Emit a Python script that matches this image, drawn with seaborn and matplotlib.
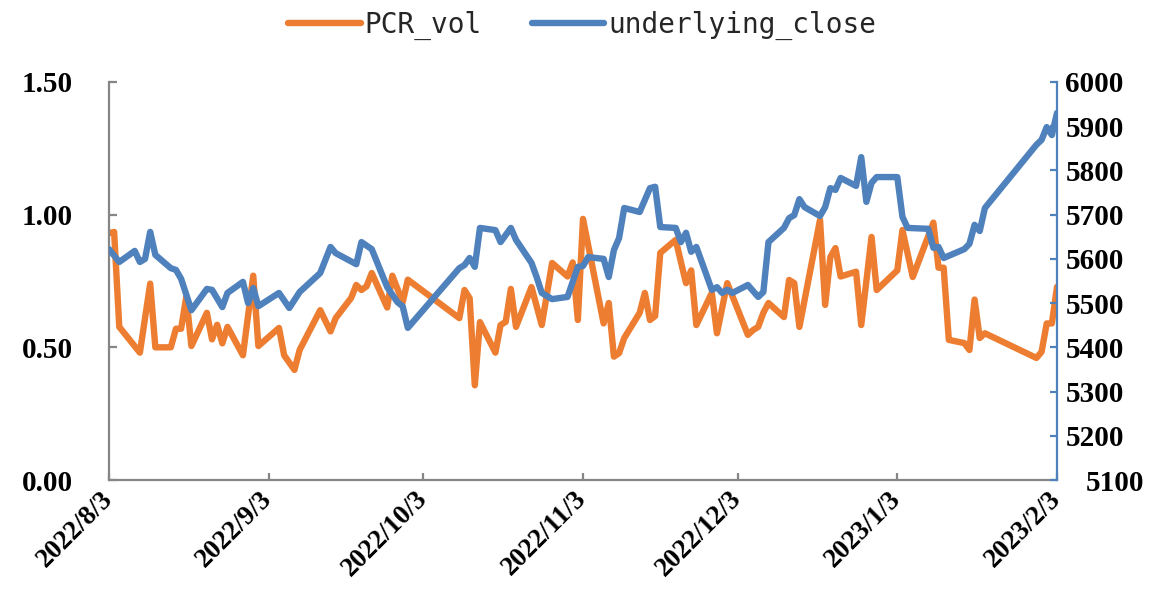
import matplotlib
matplotlib.use("Agg")
import matplotlib.pyplot as plt
import seaborn as sns
import pandas as pd

# ---------------- data ----------------
pcr_dates = [
    "2022-08-03", "2022-08-04", "2022-08-05", "2022-08-09", "2022-08-11", "2022-08-12",
    "2022-08-15", "2022-08-16", "2022-08-17", "2022-08-18", "2022-08-19", "2022-08-22",
    "2022-08-23", "2022-08-24", "2022-08-25", "2022-08-26", "2022-08-29", "2022-08-31",
    "2022-09-01", "2022-09-05", "2022-09-06", "2022-09-08", "2022-09-09", "2022-09-13",
    "2022-09-15", "2022-09-16", "2022-09-19", "2022-09-20", "2022-09-21", "2022-09-22",
    "2022-09-23", "2022-09-26", "2022-09-27", "2022-09-29", "2022-09-30", "2022-10-10",
    "2022-10-11", "2022-10-12", "2022-10-13", "2022-10-14", "2022-10-17", "2022-10-18",
    "2022-10-19", "2022-10-20", "2022-10-21", "2022-10-24", "2022-10-26", "2022-10-28",
    "2022-10-31", "2022-11-01", "2022-11-02", "2022-11-03", "2022-11-07", "2022-11-08",
    "2022-11-09", "2022-11-10", "2022-11-11", "2022-11-14", "2022-11-15", "2022-11-16",
    "2022-11-17", "2022-11-18", "2022-11-21", "2022-11-22", "2022-11-23", "2022-11-24",
    "2022-11-25", "2022-11-28", "2022-11-29", "2022-12-01", "2022-12-05", "2022-12-06",
    "2022-12-07", "2022-12-08", "2022-12-09", "2022-12-12", "2022-12-13", "2022-12-14",
    "2022-12-15", "2022-12-19", "2022-12-20", "2022-12-21", "2022-12-22", "2022-12-23",
    "2022-12-26", "2022-12-27", "2022-12-29", "2022-12-30", "2023-01-03", "2023-01-04",
    "2023-01-06", "2023-01-10", "2023-01-11", "2023-01-12", "2023-01-13", "2023-01-16",
    "2023-01-17", "2023-01-18", "2023-01-19", "2023-01-20", "2023-01-30", "2023-01-31",
    "2023-02-01", "2023-02-02", "2023-02-03",
]
pcr_vol = [
    0.93, 0.935, 0.577, 0.48, 0.74, 0.50,
    0.50, 0.57, 0.57, 0.69, 0.505, 0.63,
    0.53, 0.585, 0.515, 0.577, 0.47, 0.77,
    0.505, 0.573, 0.47, 0.415, 0.49, 0.64,
    0.56, 0.61, 0.686, 0.735, 0.716, 0.73,
    0.78, 0.65, 0.77, 0.67, 0.755, 0.61,
    0.716, 0.685, 0.357, 0.595, 0.48, 0.584,
    0.596, 0.72, 0.577, 0.727, 0.584, 0.818,
    0.767, 0.82, 0.603, 0.984, 0.59, 0.667,
    0.465, 0.478, 0.535, 0.63, 0.705, 0.603,
    0.618, 0.856, 0.905, 0.822, 0.742, 0.79,
    0.584, 0.705, 0.553, 0.742, 0.547, 0.565,
    0.577, 0.63, 0.667, 0.614, 0.754, 0.742,
    0.577, 0.98, 0.66, 0.84, 0.874, 0.767,
    0.785, 0.584, 0.916, 0.716, 0.79, 0.942,
    0.765, 0.97, 0.80, 0.80, 0.528, 0.516,
    0.49, 0.68, 0.535, 0.553, 0.46, 0.483,
    0.59, 0.59, 0.728,
]

close_dates = [
    "2022-08-03", "2022-08-05", "2022-08-08", "2022-08-09", "2022-08-10", "2022-08-11",
    "2022-08-12", "2022-08-15", "2022-08-16", "2022-08-17", "2022-08-19", "2022-08-22",
    "2022-08-23", "2022-08-25", "2022-08-26", "2022-08-29", "2022-08-30", "2022-08-31",
    "2022-09-01", "2022-09-05", "2022-09-07", "2022-09-09", "2022-09-13", "2022-09-15",
    "2022-09-16", "2022-09-20", "2022-09-21", "2022-09-23", "2022-09-26", "2022-09-28",
    "2022-09-29", "2022-09-30", "2022-10-10", "2022-10-11", "2022-10-12", "2022-10-13",
    "2022-10-14", "2022-10-17", "2022-10-18", "2022-10-20", "2022-10-21", "2022-10-24",
    "2022-10-25", "2022-10-26", "2022-10-28", "2022-10-31", "2022-11-01", "2022-11-02",
    "2022-11-03", "2022-11-04", "2022-11-07", "2022-11-08", "2022-11-09", "2022-11-10",
    "2022-11-11", "2022-11-14", "2022-11-16", "2022-11-17", "2022-11-18", "2022-11-21",
    "2022-11-22", "2022-11-23", "2022-11-24", "2022-11-25", "2022-11-28", "2022-11-29",
    "2022-11-30", "2022-12-01", "2022-12-02", "2022-12-05", "2022-12-07", "2022-12-08",
    "2022-12-09", "2022-12-12", "2022-12-13", "2022-12-14", "2022-12-15", "2022-12-16",
    "2022-12-19", "2022-12-20", "2022-12-21", "2022-12-22", "2022-12-23", "2022-12-26",
    "2022-12-27", "2022-12-28", "2022-12-29", "2022-12-30", "2023-01-03", "2023-01-04",
    "2023-01-05", "2023-01-09", "2023-01-10", "2023-01-11", "2023-01-12", "2023-01-16",
    "2023-01-17", "2023-01-18", "2023-01-19", "2023-01-20", "2023-01-30", "2023-01-31",
    "2023-02-01", "2023-02-02", "2023-02-03",
]
underlying_close = [
    5622, 5593, 5618, 5593, 5600, 5661,
    5609, 5579, 5575, 5555, 5484, 5532,
    5530, 5491, 5523, 5548, 5500, 5534,
    5493, 5523, 5489, 5525, 5568, 5627,
    5613, 5588, 5638, 5622, 5536, 5502,
    5493, 5444, 5579, 5586, 5602, 5582,
    5670, 5665, 5638, 5670, 5643, 5591,
    5559, 5523, 5509, 5514, 5548, 5582,
    5584, 5604, 5600, 5559, 5620, 5647,
    5715, 5706, 5760, 5763, 5672, 5670,
    5638, 5659, 5616, 5627, 5530, 5536,
    5523, 5530, 5523, 5541, 5514, 5525,
    5638, 5670, 5692, 5699, 5735, 5717,
    5697, 5717, 5760, 5756, 5783, 5765,
    5830, 5729, 5772, 5785, 5785, 5695,
    5670, 5668, 5625, 5627, 5602, 5622,
    5634, 5677, 5663, 5715, 5858, 5869,
    5898, 5880, 5930,
]

x_tick_labels = ["2022/8/3", "2022/9/3", "2022/10/3", "2022/11/3",
                 "2022/12/3", "2023/1/3", "2023/2/3"]
left_ticks = [0.0, 0.5, 1.0, 1.5]
right_ticks = [5100, 5200, 5300, 5400, 5500, 5600, 5700, 5800, 5900, 6000]
series_names = ["PCR_vol", "underlying_close"]

# ---------------- style ----------------
ORANGE = "#ED7D31"
BLUE = "#4F81BD"
GREY = "#868686"

sns.set_style("white")
plt.rcParams["font.family"] = ["Liberation Serif", "DejaVu Serif"]
plt.rcParams["font.weight"] = "bold"

pcr_df = pd.DataFrame({"date": pd.to_datetime(pcr_dates), "value": pcr_vol})
close_df = pd.DataFrame({"date": pd.to_datetime(close_dates), "value": underlying_close})

fig = plt.figure(figsize=(11.58, 5.91), dpi=100)
ax = fig.add_axes([0.0941, 0.1878, 0.8187, 0.6735])
ax2 = ax.twinx()

sns.lineplot(data=pcr_df, x="date", y="value", ax=ax, color=ORANGE, linewidth=4.6,
             legend=False, solid_capstyle="round", solid_joinstyle="round", zorder=2)
sns.lineplot(data=close_df, x="date", y="value", ax=ax2, color=BLUE, linewidth=4.6,
             legend=False, solid_capstyle="round", solid_joinstyle="round", zorder=3)

tick_dates = pd.to_datetime(x_tick_labels, format="%Y/%m/%d")
ax.set_xlim(tick_dates[0], tick_dates[-1])
ax.set_xticks(tick_dates)
ax.set_xticklabels(x_tick_labels, rotation=45, ha="right", va="center",
                   rotation_mode="anchor", fontsize=19.5, fontweight="bold")

ax.set_ylim(0, 1.5)
ax.set_yticks(left_ticks)
ax.set_yticklabels([f"{v:.2f}" for v in left_ticks], fontsize=21, fontweight="bold")
ax2.set_ylim(5100, 6000)
ax2.set_yticks(right_ticks)
ax2.set_yticklabels([str(v) for v in right_ticks], fontsize=21, fontweight="bold")

ax.set_xlabel("")
ax.set_ylabel("")
ax2.set_xlabel("")
ax2.set_ylabel("")

for a in (ax, ax2):
    for s in a.spines.values():
        s.set_visible(False)
ax.spines["left"].set_visible(True)
ax.spines["bottom"].set_visible(True)
ax.spines["left"].set_color(GREY)
ax.spines["bottom"].set_color(GREY)
ax.spines["left"].set_linewidth(1.6)
ax.spines["bottom"].set_linewidth(1.6)
ax2.spines["right"].set_visible(True)
ax2.spines["right"].set_color(BLUE)
ax2.spines["right"].set_linewidth(1.6)

ax.tick_params(axis="y", direction="in", length=6, width=1.6, color=GREY,
               pad=26, left=True, right=False)
ax.tick_params(axis="x", direction="in", length=5, width=1.6, color=GREY,
               pad=11, bottom=True, top=False)
ax2.tick_params(axis="y", direction="in", length=5, width=1.6, color=BLUE,
                pad=6, right=True, left=False)
ax2.yaxis.get_major_ticks()[0].set_pad(21)

for lbl in ax.get_xticklabels() + ax.get_yticklabels() + ax2.get_yticklabels():
    lbl.set_color("black")

ax.grid(False)
ax2.grid(False)

handles = [ax.get_lines()[0], ax2.get_lines()[0]]
fig.legend(handles, series_names, loc="center", bbox_to_anchor=(0.503, 0.957),
           ncol=2, frameon=False,
           prop={"family": "DejaVu Sans Mono", "size": 20, "weight": "normal"},
           handlelength=2.6, handletextpad=0.15, columnspacing=1.8)

fig.savefig("out.png", dpi=100)
